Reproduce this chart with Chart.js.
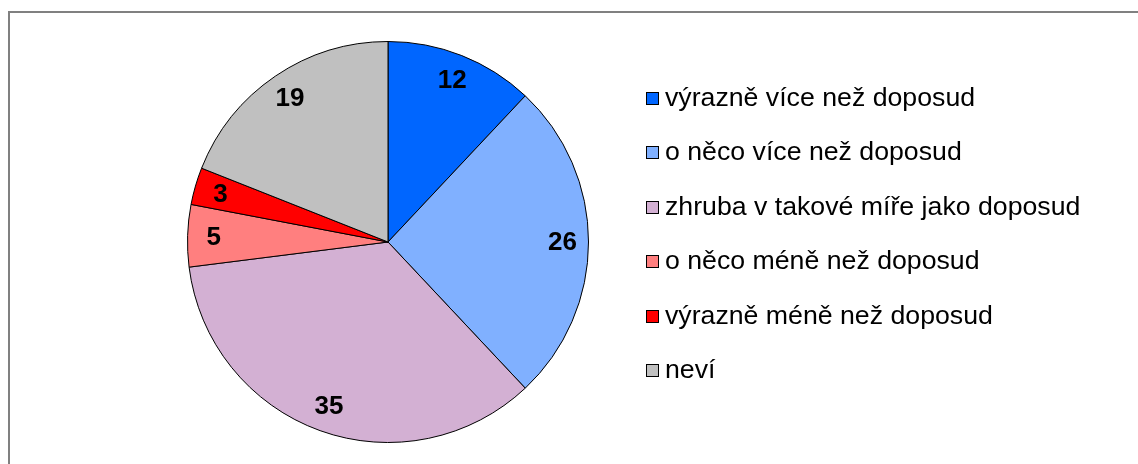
<!DOCTYPE html>
<html>
<head>
<meta charset="utf-8">
<script src="https://cdn.jsdelivr.net/npm/chart.js@4"></script>
<style>
  html, body { margin: 0; padding: 0; background: #fff; overflow: hidden; }
  #wrap { position: relative; width: 1138px; height: 464px; }
  #frame { position: absolute; left: 8px; top: 11px; width: 1200px; height: 500px;
    border: 2px solid #808080; box-sizing: border-box; }
  canvas { position: absolute; left: 0; top: 0; }
</style>
</head>
<body>
<div id="wrap">
  <div id="frame"></div>
  <canvas id="chart" width="1138" height="464"></canvas>
</div>
<script>
  const categories = [
    "výrazně více než doposud",
    "o něco více než doposud",
    "zhruba v takové míře jako doposud",
    "o něco méně než doposud",
    "výrazně méně než doposud",
    "neví",
  ];
  const values = [12, 26, 35, 5, 3, 19];
  const colors = ["#0066FF", "#80B0FF", "#D3B0D3", "#FF7F7F", "#FF0000", "#C0C0C0"];

  const FONT = "'Liberation Sans', Arial, sans-serif";

  // value labels inside slices
  const sliceLabels = {
    id: "sliceLabels",
    afterDatasetsDraw(chart) {
      const ctx = chart.ctx;
      const meta = chart.getDatasetMeta(0);
      ctx.save();
      ctx.font = "bold 26px " + FONT;
      ctx.fillStyle = "#000";
      ctx.textAlign = "center";
      ctx.textBaseline = "middle";
      meta.data.forEach((arc, i) => {
        const p = arc.getProps(["x", "y", "startAngle", "endAngle", "outerRadius"], true);
        const mid = (p.startAngle + p.endAngle) / 2;
        const r = p.outerRadius * 0.87;
        ctx.fillText(String(values[i]), p.x + Math.cos(mid) * r, p.y + Math.sin(mid) * r + 1);
      });
      ctx.restore();
    },
  };

  // legend on the right, square markers
  const sideLegend = {
    id: "sideLegend",
    afterDraw(chart) {
      const ctx = chart.ctx;
      const x0 = 646, y0 = 98, step = 54.4, box = 12;
      ctx.save();
      ctx.font = "26.7px " + FONT;
      ctx.textBaseline = "middle";
      ctx.textAlign = "left";
      categories.forEach((label, i) => {
        const y = Math.round(y0 + i * step);
        ctx.fillStyle = colors[i];
        ctx.fillRect(x0, y - box / 2, box, box);
        ctx.strokeStyle = "#000";
        ctx.lineWidth = 1;
        ctx.strokeRect(x0 + 0.5, y - box / 2 + 0.5, box, box);
        ctx.fillStyle = "#000";
        ctx.fillText(label, x0 + 19, y + 1);
      });
      ctx.restore();
    },
  };

  new Chart(document.getElementById("chart"), {
    type: "pie",
    data: {
      labels: categories,
      datasets: [{
        data: values,
        backgroundColor: colors,
        borderColor: "#000",
        borderWidth: 1,
      }],
    },
    options: {
      responsive: false,
      animation: false,
      layout: { padding: { left: 187, right: 549, top: 41, bottom: 21 } },
      plugins: {
        legend: { display: false },
        tooltip: { enabled: false },
      },
    },
    plugins: [sliceLabels, sideLegend],
  });
</script>
</body>
</html>
